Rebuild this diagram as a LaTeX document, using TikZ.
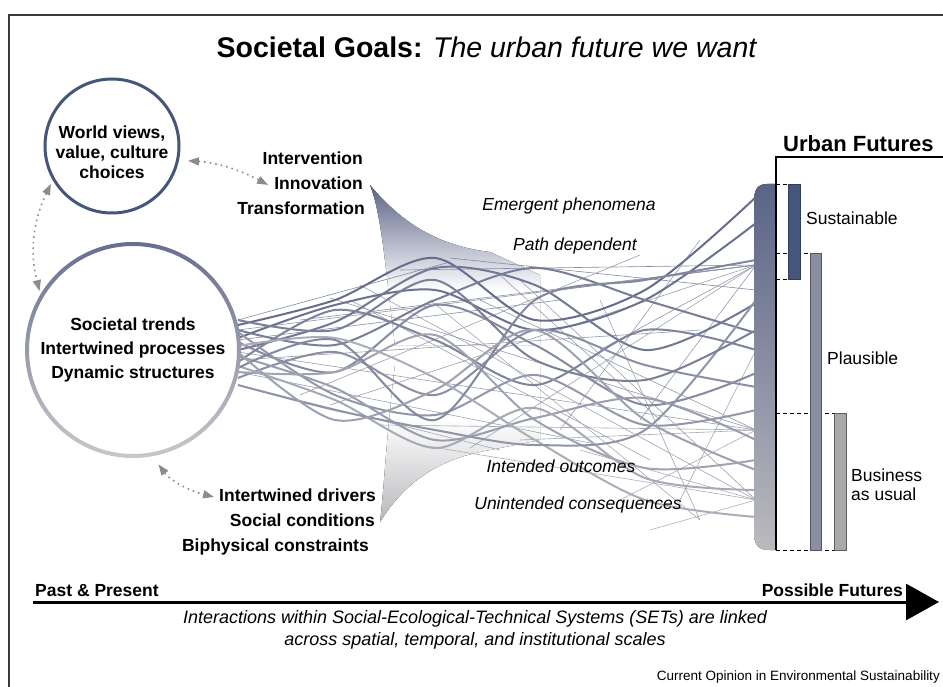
\documentclass[tikz,border=0pt]{standalone}
\usepackage{fontspec}
\setmainfont{Liberation Sans}
\usepackage{tikz}
\usetikzlibrary{arrows.meta, positioning, calc}

\definecolor{slatedark}{HTML}{46557A}
\definecolor{flowdark}{HTML}{5A6386}
\definecolor{flowlight}{HTML}{C4C4C8}
\definecolor{hornlight}{HTML}{B8B8BC}
\definecolor{ringtop}{HTML}{676E90}
\definecolor{ringbottom}{HTML}{C8C8CA}
\definecolor{dotgrey}{HTML}{8C8C8C}
\definecolor{plausfill}{HTML}{8A8F9F}
\definecolor{baufill}{HTML}{A9A9A9}
\definecolor{framegrey}{HTML}{3A3A3A}

\pgfdeclareverticalshading{hornup}{100bp}{color(0bp)=(white); color(25bp)=(white); color(42bp)=(white); color(75bp)=(flowdark); color(100bp)=(flowdark)}
\pgfdeclareverticalshading{horndown}{100bp}{color(0bp)=(hornlight); color(25bp)=(hornlight); color(58bp)=(white); color(75bp)=(white); color(100bp)=(white)}

\tikzset{
    labelnode/.style = {draw=none, inner sep=0pt, align=center, font=\fontsize{17.5pt}{20pt}\selectfont\bfseries},
    levernode/.style = {draw=none, inner sep=0pt, text height=13pt, text depth=4pt, font=\fontsize{17.5pt}{21pt}\selectfont\bfseries},
    italicnode/.style = {draw=none, inner sep=0pt, font=\fontsize{17.5pt}{21pt}\selectfont\itshape},
    futurenode/.style = {draw=none, inner sep=0pt, align=left, font=\fontsize{17.5pt}{19pt}\selectfont},
    dotlink/.style = {dotgrey, line width=1.6pt, dash pattern=on 1.6pt off 4pt,
      {Triangle[length=11pt,width=8pt]}-{Triangle[length=11pt,width=8pt]}},
    thickflow/.style = {line width=2pt},
    thinflow/.style = {line width=0.6pt},
    dashlevel/.style = {black, line width=0.9pt, dash pattern=on 4pt off 3pt},
    futurebar/.style = {line width=0.8pt}
}

\begin{document}
\begin{tikzpicture}[x=1pt, y=-1pt]
    \useasboundingbox (0,0) rectangle (943,687);
    \draw [framegrey, line width=1.4pt] (9,687) -- (9,15) -- (943,15);

    \node [name=goal, inner sep=0pt, font=\fontsize{28.5pt}{30pt}\selectfont] at (487,47) {\textbf{Societal Goals:} \textit{The urban future we want}};

    % horns of the funnel
    \fill [shading=hornup] (370,185) .. controls (395,215) and (430,245) .. (490,252) -- (540,275) -- (540,345) -- (395,345) .. controls (386,275) and (382,215) .. cycle;
    \fill [shading=horndown] (380,522) .. controls (400,490) and (430,460) .. (490,450) -- (540,440) -- (540,365) -- (395,365) .. controls (386,440) and (384,490) .. cycle;

    % thin flows
    \foreach \xa/\ya/\xb/\yb/\p in {238/330/756/265/50, 238/352/756/430/40, 238/340/560/300/55, 238/372/600/445/35,
      238/360/700/330/45, 300/320/756/265/55, 330/298/756/430/45, 360/285/756/500/35, 400/270/756/265/60,
      450/258/756/290/60, 480/300/756/430/45, 520/280/756/500/40, 560/290/756/265/55, 600/350/756/265/50,
      640/420/756/265/45, 330/405/756/265/40, 380/425/756/430/30, 420/445/756/500/25, 470/448/756/265/35,
      520/440/756/430/30, 580/450/756/500/25, 620/500/756/430/25, 650/530/756/500/20, 300/395/640/255/40,
      350/300/650/460/40, 430/300/700/520/30, 500/275/660/420/40, 238/385/500/450/30, 238/320/450/262/60,
      560/430/700/240/40, 680/500/756/350/30, 600/300/700/520/35}
      \draw [thinflow, draw=flowdark!\p!flowlight] (\xa,\ya) -- (\xb,\yb);

    % thick flows
    \foreach \a/\b/\c/\d/\e/\f/\p in {325/300/258/320/290/197/90, 338/305/290/330/300/223/85, 350/322/268/285/350/303/78,
      330/345/300/268/300/333/72, 362/310/340/385/330/350/66, 342/372/305/345/405/373/60,
      378/352/395/330/365/387/55, 332/395/415/375/425/410/46, 356/388/440/418/398/440/40,
      372/372/335/420/468/460/34, 346/338/378/440/500/517/24, 366/400/448/408/478/490/28,
      385/410/430/445/430/300/50, 320/330/280/360/380/330/70, 368/340/420/300/280/260/62,
      352/420/390/330/420/470/36}
      \draw [thickflow, draw=flowdark!\p!flowlight] plot[smooth] coordinates {(238,\a) (335,\b) (435,\c) (535,\d) (645,\e) (756,\f)};

    % circles
    \node [name=views, labelnode, circle, draw=slatedark, line width=3pt, minimum size=134pt, inner sep=0pt, text height=65pt] at (112,146) {World views,\\value, culture\\choices};
    \node [name=trends, labelnode, circle, minimum size=212pt, inner sep=0pt, font=\fontsize{17.5pt}{24pt}\selectfont\bfseries] at (133,350) {Societal trends\\Intertwined processes\\Dynamic structures};
    \path [top color=ringtop, bottom color=ringbottom, even odd rule] (trends.center) circle[radius=108pt] (trends.center) circle[radius=104pt];

    \node [name=intervention, levernode, anchor=east] at (363,160) {Intervention};
    \node [name=innovation, levernode, below left=7.5pt and 0pt of intervention.south east] {Innovation};
    \node [name=transformation, levernode, below left=7.5pt and -2pt of innovation.south east] {Transformation};

    \node [name=drivers, levernode, anchor=east] at (376,497) {Intertwined drivers};
    \node [name=conditions, levernode, below left=7.5pt and 1pt of drivers.south east] {Social conditions};
    \node [name=constraints, levernode, below left=7.5pt and 6pt of conditions.south east] {Biphysical constraints};

    \draw [dotlink, shorten <=9pt] (views.-12) to[bend left=12] ([xshift=-6pt]innovation.west);
    \draw [dotlink, shorten <=4pt, shorten >=6pt] (views.-150) to[bend right=20] (trends.150);
    \draw [dotlink, shorten <=12pt] (trends.-80) to[bend right=20] ([xshift=-5pt]drivers.west);

    % italic labels
    \node [name=emergent, italicnode] at (569,206) {Emergent phenomena};
    \node [name=pathdep, italicnode] at (575,246) {Path dependent};
    \node [name=intended, italicnode] at (561,466) {Intended outcomes};
    \node [name=unintended, italicnode] at (578,505) {Unintended consequences};

    % urban futures
    \fill [top color=flowdark, bottom color=flowlight!95!black] (776,184) -- (767,184) .. controls (757,184) and (754,190) .. (754,202) -- (754,532) .. controls (754,545) and (758,550) .. (770,550) -- (776,550) -- cycle;
    \draw [dashlevel] (776,184) -- (800,184);
    \draw [dashlevel] (776,279) -- (800,279);
    \draw [dashlevel] (776,253) -- (821,253);
    \draw [dashlevel] (776,413) -- (846,413);
    \draw [dashlevel] (776,550) -- (846,550);
    \draw [futurebar, fill=slatedark, draw=slatedark!70!black] (788,184) rectangle (800,279);
    \draw [futurebar, fill=plausfill, draw=plausfill!60!black] (810,253) rectangle (821,550);
    \draw [futurebar, fill=baufill, draw=baufill!55!black] (834,413) rectangle (846,550);
    \draw [line width=2pt] (943,157) -- (776,157) -- (776,550);
    \node [name=urban, inner sep=0pt, anchor=base west, font=\fontsize{22pt}{24pt}\selectfont\bfseries] at (783,152) {Urban Futures};
    \node [name=sustainable, futurenode, anchor=west] at (806,218) {Sustainable};
    \node [name=plausible, futurenode, anchor=west] at (827,358) {Plausible};
    \node [name=usual, futurenode, anchor=west] at (851,485) {Business\\as usual};

    % time line
    \coordinate (past) at (33,602);
    \coordinate (future) at (939,602);
    \draw [line width=3pt, -{Triangle[length=33pt,width=36pt]}] (past) -- (future);
    \node [name=pastlabel, inner sep=0pt, anchor=base west, font=\fontsize{17.5pt}{20pt}\selectfont\bfseries] at (35,596) {Past \& Present};
    \node [name=futurelabel, inner sep=0pt, anchor=base east, font=\fontsize{17.5pt}{20pt}\selectfont\bfseries] at (903,596) {Possible Futures};
    \node [name=scales, inner sep=0pt, align=center, font=\fontsize{18pt}{22pt}\selectfont\itshape] at (475,630) {Interactions within Social-Ecological-Technical Systems (SETs) are linked\\across spatial, temporal, and institutional scales};
    \node [name=source, inner sep=0pt, anchor=base east, font=\fontsize{13.5pt}{15pt}\selectfont] at (940,680) {Current Opinion in Environmental Sustainability};
\end{tikzpicture}
\end{document}
